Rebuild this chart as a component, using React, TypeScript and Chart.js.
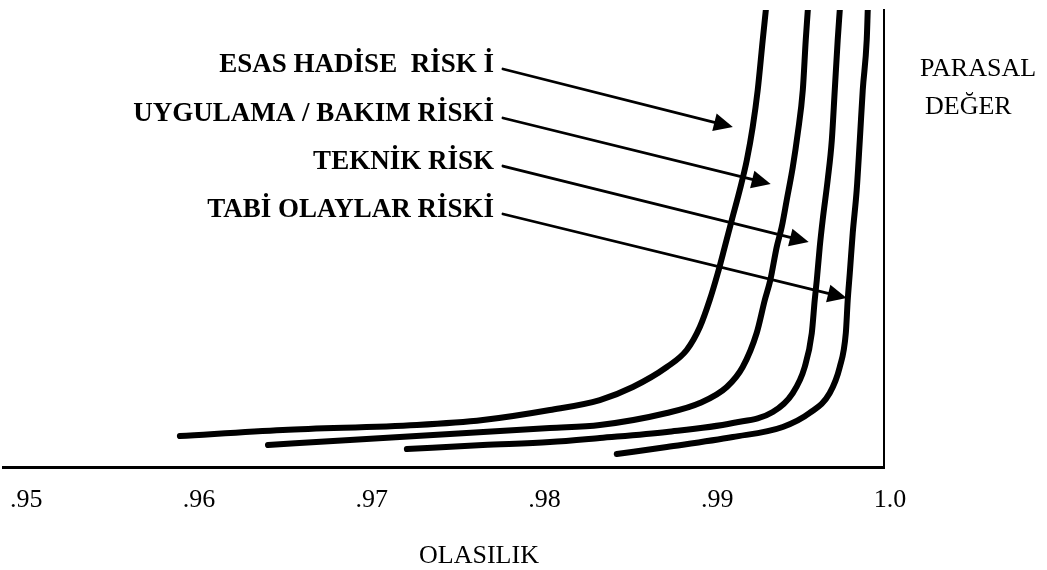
import React, { useEffect, useRef } from "react";
import { Chart, registerables } from "chart.js";

Chart.register(...registerables);

// ---- axis ----
const tickValues = [0.95, 0.96, 0.97, 0.98, 0.99, 1.0];
const tickLabels = [".95", ".96", ".97", ".98", ".99", "1.0"];
const xTitle = "OLASILIK";
const yTitleLines = ["PARASAL", "DEĞER"];

// ---- series names (annotation labels) ----
const seriesNames = [
  "ESAS HADİSE  RİSK İ",
  "UYGULAMA / BAKIM RİSKİ",
  "TEKNİK RİSK",
  "TABİ OLAYLAR RİSKİ",
];

// ---- curves (x = probability, y = monetary value, 0..100) ----
const esasX = [0.95924, 0.9652, 0.97296, 0.97678, 0.98066, 0.98355, 0.98546, 0.98743, 0.98858, 0.98934, 0.98991, 0.99038, 0.99078, 0.99119, 0.99165, 0.99206, 0.9924, 0.99269, 0.99298, 0.99316];
const esasY = [6.78, 8.1, 9.19, 10.28, 12.47, 14.66, 17.51, 21.88, 25.6, 30.63, 36.54, 42.45, 48.14, 54.05, 60.61, 67.18, 74.4, 82.49, 93.44, 100];

const bakimX = [0.96434, 0.96908, 0.97487, 0.98066, 0.98355, 0.98743, 0.98934, 0.9909, 0.99182, 0.99263, 0.9931, 0.99342, 0.99379, 0.99408, 0.99437, 0.99472, 0.99501, 0.9953, 0.99547, 0.99559];
const bakimY = [4.81, 5.91, 7.22, 8.53, 9.19, 11.82, 14.0, 17.51, 21.88, 29.32, 36.54, 40.92, 48.14, 52.52, 58.42, 65.65, 73.09, 82.49, 93.44, 100];

const teknikX = [0.97238, 0.97678, 0.98066, 0.98355, 0.98743, 0.99125, 0.99356, 0.99472, 0.99541, 0.99582, 0.99599, 0.99611, 0.99628, 0.99645, 0.99674, 0.99698, 0.99715, 0.99732, 0.99744];
const teknikY = [3.94, 4.81, 5.47, 6.35, 7.66, 9.63, 12.04, 16.19, 21.88, 29.32, 36.54, 40.92, 48.14, 54.05, 62.8, 71.55, 82.49, 93.44, 100];

const tabiX = [0.98453, 0.98743, 0.99125, 0.99414, 0.9957, 0.99686, 0.99744, 0.99779, 0.9979, 0.99802, 0.99819, 0.99842, 0.9986, 0.99877, 0.999, 0.99906];
const tabiY = [2.84, 4.38, 6.56, 8.75, 11.82, 16.19, 21.88, 29.32, 36.54, 42.45, 51.2, 60.61, 71.55, 82.49, 93.44, 100];

// ---- annotation arrows (data coordinates) ----
const arrowStartX = [0.97794, 0.97794, 0.97794, 0.97794];
const arrowStartY = [87.09, 76.37, 65.86, 55.36];
const arrowTipX = [0.99125, 0.99344, 0.99564, 0.99784];
const arrowTipY = [74.4, 61.93, 49.23, 36.98];

const curvesX = [esasX, bakimX, teknikX, tabiX];
const curvesY = [esasY, bakimY, teknikY, tabiY];

function drawArrow(ctx: CanvasRenderingContext2D, x1: number, y1: number, x2: number, y2: number) {
  const ang = Math.atan2(y2 - y1, x2 - x1);
  const headLen = 19;
  const headW = 9;
  const c = Math.cos(ang);
  const s = Math.sin(ang);
  const bx = x2 - headLen * c;
  const by = y2 - headLen * s;
  ctx.beginPath();
  ctx.moveTo(x1, y1);
  ctx.lineTo(bx + 2 * c, by + 2 * s);
  ctx.lineWidth = 2.8;
  ctx.lineCap = "round";
  ctx.stroke();
  ctx.beginPath();
  ctx.moveTo(x2, y2);
  ctx.lineTo(bx + headW * s, by - headW * c);
  ctx.lineTo(bx - headW * s, by + headW * c);
  ctx.closePath();
  ctx.fill();
}

const annotationPlugin = {
  id: "annotations",
  afterDraw(chart: any) {
    const ctx: CanvasRenderingContext2D = chart.ctx;
    const xs = chart.scales.x;
    const ys = chart.scales.y;
    const area = chart.chartArea;
    ctx.save();
    ctx.fillStyle = "#000";
    ctx.strokeStyle = "#000";
    // arrows + bold labels
    for (let i = 0; i < seriesNames.length; i++) {
      const x1 = xs.getPixelForValue(arrowStartX[i]);
      const y1 = ys.getPixelForValue(arrowStartY[i]);
      const x2 = xs.getPixelForValue(arrowTipX[i]);
      const y2 = ys.getPixelForValue(arrowTipY[i]);
      drawArrow(ctx, x1, y1, x2, y2);
      ctx.font = "bold 27px 'Liberation Serif', serif";
      ctx.textAlign = "right";
      ctx.textBaseline = "alphabetic";
      ctx.fillText(seriesNames[i], x1 - 9, y1 + 3);
    }
    // y title (right side, horizontal)
    ctx.font = "26px 'Liberation Serif', serif";
    ctx.textAlign = "left";
    ctx.textBaseline = "alphabetic";
    ctx.fillText(yTitleLines[0], area.right + 36, area.top + 66);
    ctx.fillText(yTitleLines[1], area.right + 41, area.top + 104);
    // x title
    ctx.font = "26px 'Liberation Serif', serif";
    ctx.textAlign = "center";
    ctx.fillText(xTitle, 479, area.bottom + 96);
    ctx.restore();
  },
};

export default function App() {
  const ref = useRef<HTMLCanvasElement | null>(null);
  useEffect(() => {
    if (!ref.current) return;
    const datasets = curvesX.map((xs, i) => ({
      label: seriesNames[i],
      data: xs.map((x, j) => ({ x, y: curvesY[i][j] })),
      borderColor: "#000",
      borderWidth: 6,
      pointRadius: 0,
      fill: false,
      cubicInterpolationMode: "monotone" as const,
      borderCapStyle: "round" as const,
      borderJoinStyle: "round" as const,
    }));
    const chart = new Chart(ref.current, {
      type: "line",
      data: { datasets },
      options: {
        animation: false,
        responsive: false,
        layout: { padding: { left: 3, right: 163, top: 10, bottom: 0 } },
        plugins: { legend: { display: false }, tooltip: { enabled: false } },
        scales: {
          x: {
            type: "linear",
            position: "bottom",
            min: 0.949,
            max: 1.0,
            grid: { display: false },
            border: { display: true, color: "#000", width: 3 },
            ticks: {
              color: "#000",
              font: { family: "'Liberation Serif', serif", size: 26 },
              padding: 10,
              labelOffset: 6,
              maxRotation: 0,
              autoSkip: false,
              callback: (_v: any, i: number) => tickLabels[i],
            },
            afterBuildTicks: (s: any) => {
              s.ticks = tickValues.map((v) => ({ value: v }));
            },
            afterFit: (s: any) => {
              s.height = 103;
              s.paddingLeft = 0;
              s.paddingRight = 0;
            },
          },
          y: {
            type: "linear",
            position: "right",
            min: 0,
            max: 100,
            grid: { display: false },
            ticks: { display: false },
            border: { display: true, color: "#000", width: 2 },
            afterFit: (s: any) => {
              s.width = 0;
              s.paddingTop = 0;
              s.paddingBottom = 0;
            },
          },
        },
      },
      plugins: [annotationPlugin],
    });
    return () => chart.destroy();
  }, []);
  return (
    <div style={{ position: "absolute", left: 0, top: 0, width: 1047, height: 570, background: "#fff" }}>
      <canvas ref={ref} width={1047} height={570} style={{ display: "block" }} />
    </div>
  );
}
